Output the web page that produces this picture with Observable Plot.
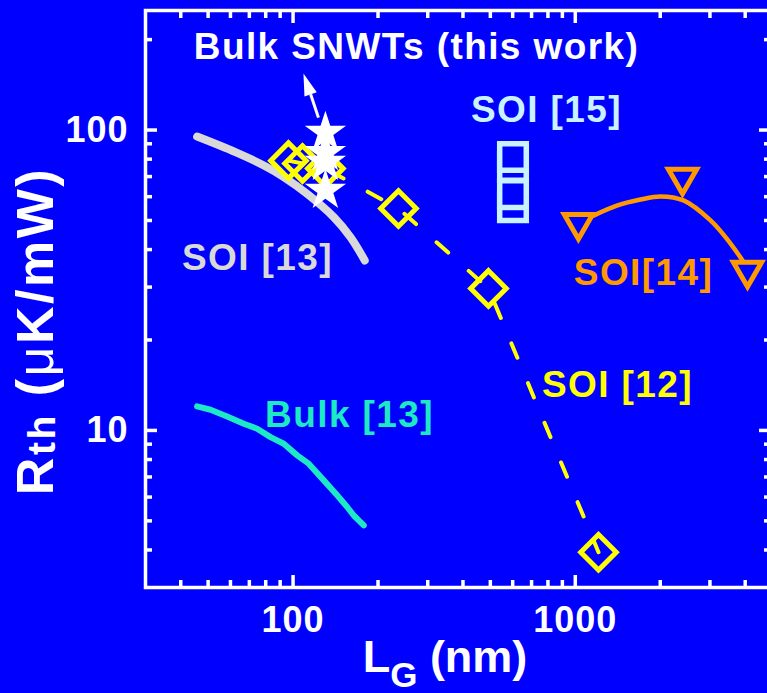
<!DOCTYPE html>
<html><head><meta charset="utf-8">
<script src="https://cdn.jsdelivr.net/npm/d3@7"></script>
<script src="https://cdn.jsdelivr.net/npm/@observablehq/plot@0.6"></script>
<style>
html,body{margin:0;padding:0;background:#0000ff;overflow:hidden}
#chart svg g[aria-label="text"] text{letter-spacing:1.4px}
#chart svg g[aria-label="x-axis tick label"] text,#chart svg g[aria-label="y-axis tick label"] text{letter-spacing:1px}
</style>
</head><body><div id="chart"></div>
<script>
const BG = "#0000ff";

// ticks
const xMajorTicks = [100, 1000];
const xMinorTicks = [40, 50, 60, 70, 80, 90, 200, 300, 400, 500, 600, 700, 800, 900, 2000, 3000, 4000];
const yMajorTicks = [10, 100];
const yMinorTicks = [4, 5, 6, 7, 8, 9, 20, 30, 40, 50, 60, 70, 80, 90, 200];

// SOI [13] (gray curve)
const soi13Lg  = [45.7, 62.5, 78.8, 92.7, 112.2, 139.4, 159.7, 179.5];
const soi13Rth = [95.1, 84.4, 76.2, 69.7, 61.3, 51.3, 44.0, 36.8];

// Bulk [13] (cyan curve)
const bulk13Lg  = [45.7, 51.0, 58.4, 66.9, 74.6, 83.2, 92.7, 103.4, 113.6, 128.5, 143.3, 155.5, 164.1, 178.1];
const bulk13Rth = [12.02, 11.72, 11.13, 10.53, 10.13, 9.50, 9.03, 8.26, 7.75, 6.82, 6.08, 5.56, 5.21, 4.83];

// SOI [12] (yellow diamonds, dashed)
const soi12Lg  = [96.3, 108, 130.2, 236.3, 492.5, 1208.5];
const soi12Rth = [79.1, 77.4, 74.4, 54.8, 29.7, 3.93];

// SOI [15] (light cyan squares)
const soi15Lg  = [601.5, 601.5, 601.5, 601.5];
const soi15Rth = [55.4, 61.2, 75.3, 81.3];

// SOI [14] (orange triangles + fit)
const soi14Lg  = [1026, 2399, 4076];
const soi14Rth = [49.2, 69.5, 34.1];
const soi14FitLg  = [1160, 1411, 1702, 2004, 2418, 3014, 3548, 3913];
const soi14FitRth = [51.9, 56.1, 58.7, 60.1, 58.3, 50.0, 41.9, 36.8];

// Bulk SNWTs (this work) (white stars)
const snwtLg  = [130.2, 130.2, 130.2, 130.2];
const snwtRth = [98.1, 84.1, 78.0, 62.9];

// annotation arrow (tail -> head base)
const arrowLg  = [123, 115.4];
const arrowRth = [110, 131.5];

// labels
const labelText  = ["Bulk SNWTs (this work)", "SOI [15]", "SOI [13]", "SOI[14]", "SOI [12]", "Bulk [13]"];
const labelLg    = [273.7, 790.8, 74.8, 1745, 1411, 158.5];
const labelRth   = [188.9, 116.6, 37.4, 33.5, 14.2, 11.22];
const labelColor = ["#ffffff", "#c8f2ff", "#d9d9d9", "#ff9900", "#ffff00", "#1de9c4"];

const zip = (xs, ys) => xs.map((x, i) => ({x, y: ys[i]}));
const labels = labelText.map((t, i) => ({t, x: labelLg[i], y: labelRth[i], c: labelColor[i]}));
const arrow = [{x1: arrowLg[0], y1: arrowRth[0], x2: arrowLg[1], y2: arrowRth[1]}];

const tickOpts = {stroke: "white", strokeWidth: 3.5, fill: "none", label: null};

const svg = Plot.plot({
  width: 767, height: 693,
  marginLeft: 145, marginRight: -3, marginTop: 10, marginBottom: 106,
  style: {background: BG, color: "white", fontFamily: "'Liberation Sans', Arial, sans-serif", fontWeight: "bold", fontSize: "36px", overflow: "visible"},
  x: {type: "log", domain: [30, 4917]},
  y: {type: "log", domain: [3, 250]},
  marks: [
    Plot.line(zip(soi13Lg, soi13Rth), {x: "x", y: "y", stroke: "#d9d9d9", strokeWidth: 8, strokeLinecap: "round", curve: "catmull-rom"}),
    Plot.line(zip(bulk13Lg, bulk13Rth), {x: "x", y: "y", stroke: "#1de9c4", strokeWidth: 6, strokeLinecap: "round", strokeLinejoin: "round"}),
    Plot.line(zip(soi12Lg, soi12Rth), {x: "x", y: "y", stroke: "#ffff00", strokeWidth: 4, strokeDasharray: "15.5,27.5", strokeLinecap: "round"}),
    Plot.line(zip(soi14FitLg, soi14FitRth), {x: "x", y: "y", stroke: "#ff9900", strokeWidth: 4.5, curve: "catmull-rom"}),
    Plot.dot(zip(soi15Lg, soi15Rth), {x: "x", y: "y", symbol: "square", r: 15, stroke: "#c8f2ff", strokeWidth: 5.5, fill: BG}),
    Plot.dot(zip(soi14Lg, soi14Rth), {x: "x", y: "y", symbol: "triangle", rotate: 180, r: 10.5, stroke: "#ff9900", strokeWidth: 5, fill: "none"}),
    Plot.dot(zip(soi12Lg, soi12Rth), {x: "x", y: "y", symbol: "diamond2", r: 16, stroke: "#ffff00", strokeWidth: 5, fill: "none"}),
    Plot.dot(zip(snwtLg, snwtRth), {x: "x", y: "y", symbol: "star", r: 13, fill: "white", stroke: "none"}),
    Plot.link(arrow, {x1: "x1", y1: "y1", x2: "x2", y2: "y2", stroke: "white", strokeWidth: 3}),
    Plot.vector([arrow[0]], {x: "x2", y: "y2", length: 22, r: 6.5, rotate: -19, shape: "spike", anchor: "start", fill: "white", stroke: "none"}),
    Plot.text(labels, {x: "x", y: "y", text: "t", fill: "c", fontSize: 37, fontWeight: "bold"}),
    Plot.axisX(xMajorTicks, {...tickOpts, anchor: "bottom", tickSize: -12}),
    Plot.axisX(xMinorTicks, {...tickOpts, anchor: "bottom", tickSize: -7}),
    Plot.axisX(xMajorTicks, {...tickOpts, anchor: "top", tickSize: -12}),
    Plot.axisX(xMinorTicks, {...tickOpts, anchor: "top", tickSize: -7}),
    Plot.axisY(yMajorTicks, {...tickOpts, anchor: "left", tickSize: -12}),
    Plot.axisY(yMinorTicks, {...tickOpts, anchor: "left", tickSize: -7}),
    Plot.axisY(yMajorTicks, {...tickOpts, anchor: "right", tickSize: -12}),
    Plot.axisY(yMinorTicks, {...tickOpts, anchor: "right", tickSize: -7}),
    Plot.axisX(xMajorTicks, {anchor: "bottom", tickSize: 0, tickPadding: 19, stroke: "none", fill: "white", tickFormat: d => String(d), label: null, fontSize: 36}),
    Plot.axisY(yMajorTicks, {anchor: "left", tickSize: 0, tickPadding: 17, stroke: "none", fill: "white", tickFormat: d => String(d), label: null, fontSize: 36}),
    Plot.frame({stroke: "white", strokeWidth: 3.5})
  ]
});

const s = d3.select(svg);
// y-axis title
const yl = s.append("text")
  .attr("transform", "translate(53,331) rotate(-90)")
  .attr("text-anchor", "middle")
  .attr("fill", "white")
  .attr("font-family", "'Liberation Sans', Arial, sans-serif")
  .attr("font-weight", "bold")
  .attr("font-size", 52)
  .style("letter-spacing", "2.5px");
yl.append("tspan").text("R");
yl.append("tspan").attr("font-size", 39).attr("dy", 2).text("th");
yl.append("tspan").attr("dy", -2).text(" (");
yl.append("tspan").attr("font-weight", "normal").text("\u03bc");
yl.append("tspan").text("K/mW)");

// x-axis title
const xl = s.append("text")
  .attr("x", 445).attr("y", 672)
  .attr("text-anchor", "middle")
  .attr("fill", "white")
  .attr("font-family", "'Liberation Sans', Arial, sans-serif")
  .attr("font-weight", "bold")
  .attr("font-size", 45);
xl.append("tspan").text("L");
xl.append("tspan").attr("font-size", 35).attr("dy", 15).text("G");
xl.append("tspan").attr("dy", -15).text(" (nm)");

document.getElementById("chart").appendChild(svg);
</script>
</body></html>
